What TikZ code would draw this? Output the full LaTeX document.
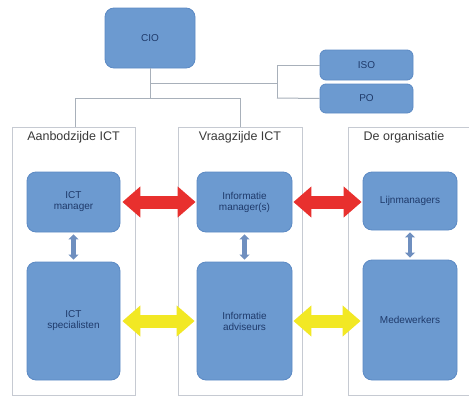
\documentclass[tikz,border=0pt]{standalone}
\usepackage{fontspec}
\setmainfont{Liberation Sans}
\usetikzlibrary{arrows.meta}
\definecolor{boxfill}{HTML}{6C9AD0}
\definecolor{boxline}{HTML}{5C8AC4}
\definecolor{boxtext}{HTML}{1F3A6A}
\definecolor{panelline}{HTML}{C6CAD2}
\definecolor{conline}{HTML}{A8B0BA}
\definecolor{redarr}{HTML}{E8302E}
\definecolor{yelarr}{HTML}{F2E824}
\definecolor{vertarr}{HTML}{6F8FBF}
\definecolor{titletext}{HTML}{3A3A3A}
\tikzset{
  box/.style={draw=boxline, line width=0.8pt, fill=boxfill, rounded corners=9pt,
    text=boxtext, align=center, font=\fontsize{10}{11}\selectfont, inner sep=0pt},
  panel/.style={draw=panelline, line width=0.9pt, fill=white, inner sep=0pt},
  ptitle/.style={text=titletext, font=\fontsize{12.5}{14}\selectfont, anchor=north, inner sep=0pt},
  con/.style={draw=conline, line width=1pt},
  bigarrow/.style={line width=13pt, {Triangle[width=30pt,length=18pt]}-{Triangle[width=30pt,length=18pt]}},
  smallarrow/.style={draw=vertarr, line width=4.5pt, {Triangle[width=10pt,length=5pt]}-{Triangle[width=10pt,length=5pt]}}
}
\begin{document}
\begin{tikzpicture}[x=1pt,y=-1pt]
\useasboundingbox (0,0) rectangle (469,399);
\fill[white] (0,0) rectangle (469,399);
% panels
\node[panel, minimum width=123pt, minimum height=268pt] (pl) at (73.5,261) {};
\node[panel, minimum width=124pt, minimum height=268pt] (pm) at (240,261) {};
\node[panel, minimum width=130pt, minimum height=268pt] (pr) at (413,261) {};
\node[ptitle] (tl) at (73.5,131) {Aanbodzijde ICT};
\node[ptitle] (tm) at (240,131) {Vraagzijde ICT};
\node[ptitle] (tr) at (404,131) {De organisatie};
% top boxes
\node[box, minimum width=90pt, minimum height=60pt] (cio) at (150,38) {CIO};
\node[box, minimum width=93pt, minimum height=30pt, rounded corners=6pt] (iso) at (366.5,65) {ISO};
\node[box, minimum width=93pt, minimum height=29pt, rounded corners=6pt] (po) at (366.5,98.5) {PO};
% connectors
\coordinate (j1) at (150,83);
\coordinate (j2) at (150,98);
\coordinate (k1) at (277,65);
\coordinate (k2) at (277,98);
\coordinate (hl) at (75,98);
\coordinate (hr) at (240,98);
\draw[con] (cio.south) -- (j2);
\draw[con] (j1) -- (j1 -| k1);
\draw[con] (k1) -- (k2);
\draw[con] (k1) -- (iso.west);
\draw[con] (k2) -- (po.west);
\draw[con] (hl) -- (hr);
\draw[con] (hl) -- (hl |- pl.north);
\draw[con] (hr) -- (hr |- pm.north);
% column boxes
\node[box, minimum width=93pt, minimum height=60pt] (ictm) at (73.5,202) {ICT\\manager};
\node[box, minimum width=93pt, minimum height=118pt] (icts) at (73.5,321) {ICT\\specialisten};
\node[box, minimum width=95pt, minimum height=60pt] (im) at (244.5,202) {Informatie\\manager(s)};
\node[box, minimum width=95pt, minimum height=118pt] (ia) at (244.5,321) {Informatie\\adviseurs};
\node[box, minimum width=94pt, minimum height=58pt] (lm) at (410,201) {Lijnmanagers};
\node[box, minimum width=94pt, minimum height=120pt] (mw) at (410,320) {Medewerkers};
% arrows
\draw[bigarrow, redarr] ([xshift=2pt]ictm.east) -- ([xshift=-1pt]im.west);
\draw[bigarrow, redarr] ([xshift=1pt]im.east) -- ([xshift=-1pt]lm.west |- im.east);
\draw[bigarrow, yelarr] ([xshift=2pt]icts.east) -- ([xshift=-2pt]ia.west);
\draw[bigarrow, yelarr] ([xshift=1pt]ia.east) -- ([xshift=-2pt]mw.west |- ia.east);
\draw[smallarrow] ([yshift=-2pt]ictm.south) -- ([yshift=2pt]icts.north);
\draw[smallarrow] ([yshift=-2pt]im.south) -- ([yshift=2pt]ia.north);
\draw[smallarrow] ([yshift=-2pt]lm.south) -- ([yshift=2pt]mw.north);
\end{tikzpicture}
\end{document}
